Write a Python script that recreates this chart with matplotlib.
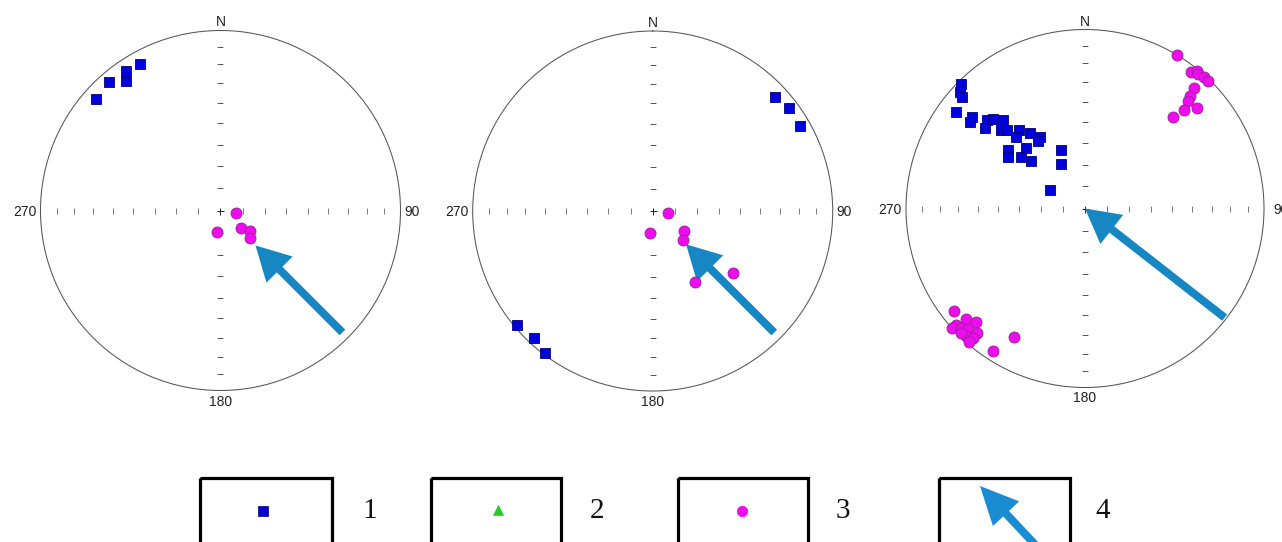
import numpy as np
import matplotlib
matplotlib.use("Agg")
import matplotlib.pyplot as plt
from matplotlib.patches import FancyArrowPatch, Rectangle

# ---- data: trend / plunge (degrees) of the plotted lineations ----
# set 1 (blue squares)
net1_set1_trend = [312, 319, 326, 324, 331]
net1_set1_plunge = [8, 6, 7, 12, 8]
net2_set1_trend = [47, 53, 60, 230, 223, 217]
net2_set1_plunge = [8, 6, 6, 2, 4, 1]
net3_set1_trend = [315, 313, 312, 307, 309, 307, 312, 309, 314, 317, 313, 315, 320,
                   316, 324, 328, 325, 316, 307, 304, 309, 311, 338, 332, 298]
net3_set1_plunge = [2, 5, 8, 11, 20, 21, 27, 29, 29, 33, 36, 38, 42,
                    44, 47, 51, 52, 51, 45, 47, 52, 57, 61, 67, 72]

# set 3 (magenta circles)
net1_set3_trend = [101, 188, 130, 125, 133]
net1_set3_plunge = [83, 80, 78, 74, 72]
net2_set3_trend = [98, 187, 123, 134, 128, 149]
net2_set3_plunge = [83, 80, 73, 71, 43, 52]
net3_set3_trend = [31, 38, 39, 40, 42, 44, 42, 43, 44, 48, 45, 44,
                   232, 228, 228, 227, 224, 226, 224, 221, 223, 225, 221, 221, 209, 213]
net3_set3_plunge = [0, 4, 1, 2, 1, 1, 10, 15, 18, 17, 23, 30,
                    8, 3, 0, 10, 13, 4, 7, 9, 3, 2, 5, 1, 19, 6]

# set 4: horizontal direction arrows (azimuth, outer and inner end as fraction of net radius)
arrow_trend = [135, 135, 128]
arrow_outer = [0.958, 0.955, 0.99]
arrow_inner = [0.275, 0.262, 0.0]

net_labels = ["N", "90", "180", "270"]
legend_labels = ["1", "2", "3", "4"]

# ---- styling ----
W, H = 1282, 542
SQ_FACE, SQ_EDGE = "#0000dc", "#00007a"
CI_FACE, CI_EDGE = "#ee0cee", "#9c1c9c"
TRI_FACE = "#22cc22"
ARROW_COLOR = "#1787c4"
LEG_ARROW_COLOR = "#1a8cd2"
LINE_COLOR = "#555555"
TICK_COLOR = "#555555"
LABEL_FONT = ["Liberation Sans", "DejaVu Sans"]
NUM_FONT = ["Liberation Serif", "DejaVu Serif"]

fig = plt.figure(figsize=(W / 100, H / 100), dpi=100)
fig.patch.set_facecolor("white")


def eq_area(plunge):
    """Radial distance on a unit Schmidt (equal-area) net."""
    p = np.radians(np.asarray(plunge, dtype=float))
    return np.sqrt(2.0) * np.sin((np.pi / 2 - p) / 2.0)


def px(v):
    # pixels -> points
    return v * 72.0 / 100.0


nets = [
    dict(c=(220.5, 210.5), R=180.0, east_pad=4,
         s1=(net1_set1_trend, net1_set1_plunge), s3=(net1_set3_trend, net1_set3_plunge)),
    dict(c=(652.7, 211.0), R=180.0, east_pad=4,
         s1=(net2_set1_trend, net2_set1_plunge), s3=(net2_set3_trend, net2_set3_plunge)),
    dict(c=(1085.0, 208.5), R=179.0, east_pad=9,
         s1=(net3_set1_trend, net3_set1_plunge), s3=(net3_set3_trend, net3_set3_plunge)),
]

tick_dist = np.arange(10, 90, 10)          # angular distance from centre
tick_r = np.sqrt(2.0) * np.sin(np.radians(tick_dist) / 2.0)

for i, net in enumerate(nets):
    cx, cy = net["c"]
    R = net["R"]
    ax = fig.add_axes([(cx - R) / W, (H - cy - R) / H, 2 * R / W, 2 * R / H],
                      projection="polar")
    ax.set_theta_zero_location("N")
    ax.set_theta_direction(-1)
    ax.set_ylim(0, 1)
    ax.set_xticks([])
    ax.set_yticks([])
    ax.grid(False)
    ax.spines["polar"].set_linewidth(0.75)
    ax.spines["polar"].set_color(LINE_COLOR)

    # tick marks along the N-S and E-W diameters
    for az in (0, 180):
        ax.plot(np.full_like(tick_r, np.radians(az)), tick_r, ls="none", marker="_",
                ms=px(5.5), mew=0.55, color=TICK_COLOR)
    for az in (90, 270):
        ax.plot(np.full_like(tick_r, np.radians(az)), tick_r, ls="none", marker="|",
                ms=px(6), mew=0.55, color=TICK_COLOR)
    ax.plot([0], [0], ls="none", marker="+", ms=px(7), mew=0.7, color="#222222")

    # cardinal labels
    lab_kw = dict(xycoords="axes fraction", textcoords="offset pixels",
                  fontsize=10, family=LABEL_FONT, color="#222222", annotation_clip=False)
    ax.annotate(net_labels[0], xy=(0.5, 1.0), xytext=(0, 8), ha="center", va="center", **lab_kw)
    ax.annotate(net_labels[1], xy=(1.0, 0.5), xytext=(net["east_pad"], -1),
                ha="left", va="center", **lab_kw)
    ax.annotate(net_labels[2], xy=(0.5, 0.0), xytext=(0, -11), ha="center", va="center", **lab_kw)
    ax.annotate(net_labels[3], xy=(0.0, 0.5), xytext=(-4, -1), ha="right", va="center", **lab_kw)

    # arrow (set 4)
    th = np.radians(arrow_trend[i])
    arr = FancyArrowPatch(posA=(th, arrow_outer[i]), posB=(th, arrow_inner[i]),
                          transform=ax.transData,
                          arrowstyle=f"simple,head_length={px(34)},head_width={px(37)},"
                                     f"tail_width={px(8)}",
                          mutation_scale=1, shrinkA=0, shrinkB=0,
                          color=ARROW_COLOR, lw=0, clip_on=False, zorder=3)
    ax.add_patch(arr)

    # set 1 squares and set 3 circles
    t1, p1 = net["s1"]
    ax.plot(np.radians(t1), eq_area(p1), ls="none", marker="s", ms=px(10.5),
            mfc=SQ_FACE, mec=SQ_EDGE, mew=0.6, clip_on=False, zorder=4)
    t3, p3 = net["s3"]
    ax.plot(np.radians(t3), eq_area(p3), ls="none", marker="o", ms=px(11),
            mfc=CI_FACE, mec=CI_EDGE, mew=0.6, clip_on=False, zorder=4)

# ---- legend strip (pixel coordinates) ----
lg = fig.add_axes([0, 0, 1, 1], zorder=-1)
lg.set_xlim(0, W)
lg.set_ylim(H, 0)
lg.axis("off")

boxes = [(199.5, 132.0), (430.7, 130.0), (678.3, 130.0), (939.3, 130.7)]
num_x = [370, 597, 843, 1103]
for (x0, w), lab, nx in zip(boxes, legend_labels, num_x):
    lg.add_patch(Rectangle((x0, 478), w, 110, fill=False, ec="black", lw=px(3.2)))
    lg.text(nx, 511, lab, ha="center", va="center", fontsize=21, family=NUM_FONT,
            color="#111111")

lg.plot([263.3], [511], ls="none", marker="s", ms=px(10.5), mfc=SQ_FACE, mec=SQ_EDGE, mew=0.5)
lg.plot([498], [510], ls="none", marker="^", ms=px(10), mfc=TRI_FACE, mec=TRI_FACE, mew=0.5)
lg.plot([741.7], [511], ls="none", marker="o", ms=px(10.5), mfc=CI_FACE, mec=CI_FACE, mew=0.5)
lg.add_patch(FancyArrowPatch(posA=(1043, 553), posB=(980, 486),
                             arrowstyle=f"simple,head_length={px(38)},head_width={px(36)},"
                                        f"tail_width={px(8)}",
                             mutation_scale=1, shrinkA=0, shrinkB=0,
                             color=LEG_ARROW_COLOR, lw=0))

fig.savefig("out.png", dpi=100)
